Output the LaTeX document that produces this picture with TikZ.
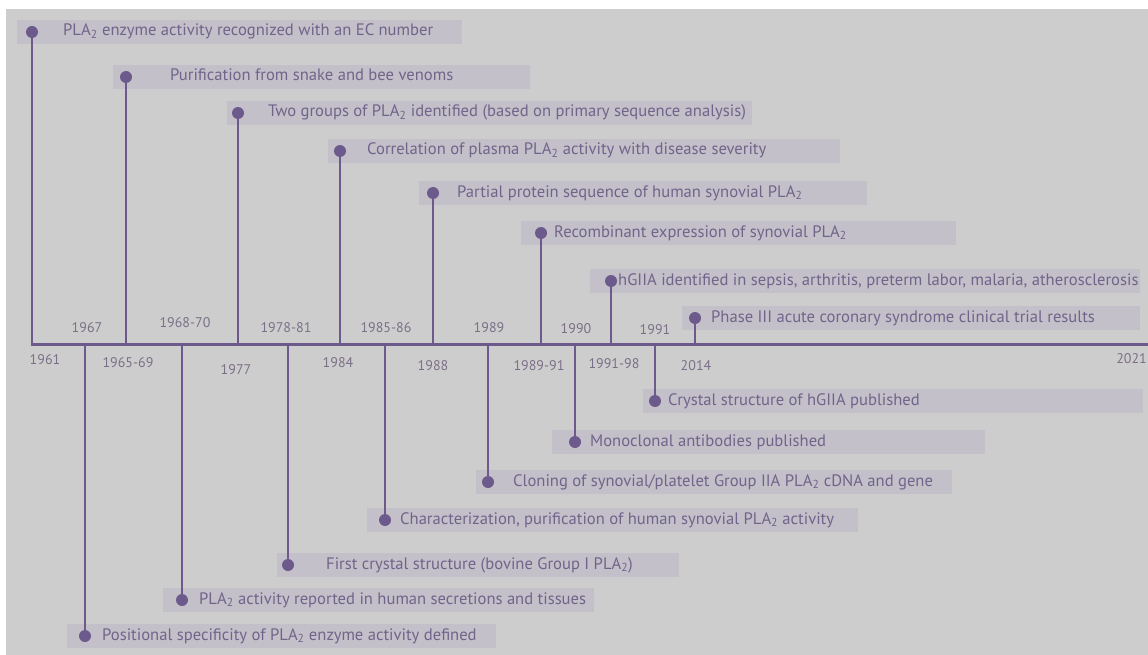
\documentclass[tikz,border=0pt]{standalone}
\usepackage{fontspec}
\setmainfont{PT Sans}
\usetikzlibrary{positioning}
\definecolor{paper}{HTML}{CDCDCD}
\definecolor{boxgray}{HTML}{C3C0C9}
\definecolor{lineviolet}{HTML}{6D5A8C}
\definecolor{labelink}{HTML}{71648A}
\definecolor{yearink}{HTML}{7B7087}
\tikzset{
  evbox/.style={fill=boxgray,minimum height=24pt,inner sep=0pt},
  evtext/.style={font=\fontsize{16.6}{18}\selectfont,text=labelink,inner sep=0pt,text height=11.5pt,text depth=3.5pt},
  yeartext/.style={font=\fontsize{14}{16}\selectfont,text=yearink,inner sep=0pt},
  dot/.style={circle,fill=lineviolet,minimum size=12pt,inner sep=0pt},
  stem/.style={draw=lineviolet,line width=2.4pt},
  timeline/.style={draw=lineviolet,line width=3pt,line cap=rect}
}
\newcommand{\pla}{PLA\textsubscript{2}}

\begin{document}
\begin{tikzpicture}[x=1pt,y=-1pt]
    \useasboundingbox (0,0) rectangle (1148,655);
    \fill[white] (0,0) rectangle (1148,655);
    \fill[paper] (6,9) rectangle (1148,655);

    % main axis
    \coordinate (axstart) at (32,344);
    \coordinate (axend) at (1148,344);

    % events: name/stem x/y/box left/text x/box right/label
    \foreach \n/\px/\py/\bl/\tx/\br/\lbl in {
        t1/32/32/17/63/462/{\pla{} enzyme activity recognized with an EC number},
        t2/126/77/113/170/530/{Purification from snake and bee venoms},
        t3/238/113/227/268/752/{Two groups of \pla{} identified (based on primary sequence analysis)},
        t4/340/151/328/367/840/{Correlation of plasma \pla{} activity with disease severity},
        t5/433/193/419/457/867/{Partial protein sequence of human synovial \pla},
        t6/541/233/521/554/956/{Recombinant expression of synovial \pla},
        t7/611/281/590/618/1140/{hGIIA identified in sepsis, arthritis, preterm labor, malaria, atherosclerosis},
        t8/695/318/682/711/1140/{Phase III acute coronary syndrome clinical trial results},
        b1/85/636/67/102/496/{Positional specificity of \pla{} enzyme activity defined},
        b2/182/600/163/199/594/{\pla{} activity reported in human secretions and tissues},
        b3/288/565/277/326/679/{First crystal structure (bovine Group I \pla)},
        b4/385/520/367/400/858/{Characterization, purification of human synovial \pla{} activity},
        b5/488/482/476/513/952/{Cloning of synovial/platelet Group IIA \pla{} cDNA and gene},
        b6/575/442/552/590/985/{Monoclonal antibodies published},
        b7/655/401/643/668/1143/{Crystal structure of hGIIA published}}{
      \node[evbox,anchor=west,minimum width={(\br-\bl)*1pt}] (box\n) at (\bl,\py) {};
      \node[dot] (dot\n) at (\px,\py) {};
      \coordinate (ax\n) at (\px,344);
      \draw[stem] (dot\n.center) -- (ax\n);
      \node[evtext,anchor=west] (txt\n) at (\tx,\py) {\lbl};
    }

    \draw[timeline] (axstart) -- (axend);

    % years
    \foreach \yr/\yx/\yy in {1967/87/328,1968-70/185/323,1978-81/286/328,1985-86/386/328,
        1989/489/328,1990/576/329,1991/655/330,1961/45/360,1965-69/128/363,1977/236/370,
        1984/338/363,1988/433/366,1989-91/539/366,1991-98/614/364,2014/696/366}
      \node[yeartext] (yr\yr) at (\yx,\yy) {\yr};
    \node[yeartext,anchor=east] (yr2021) at (1147,359) {2021};
\end{tikzpicture}
\end{document}
